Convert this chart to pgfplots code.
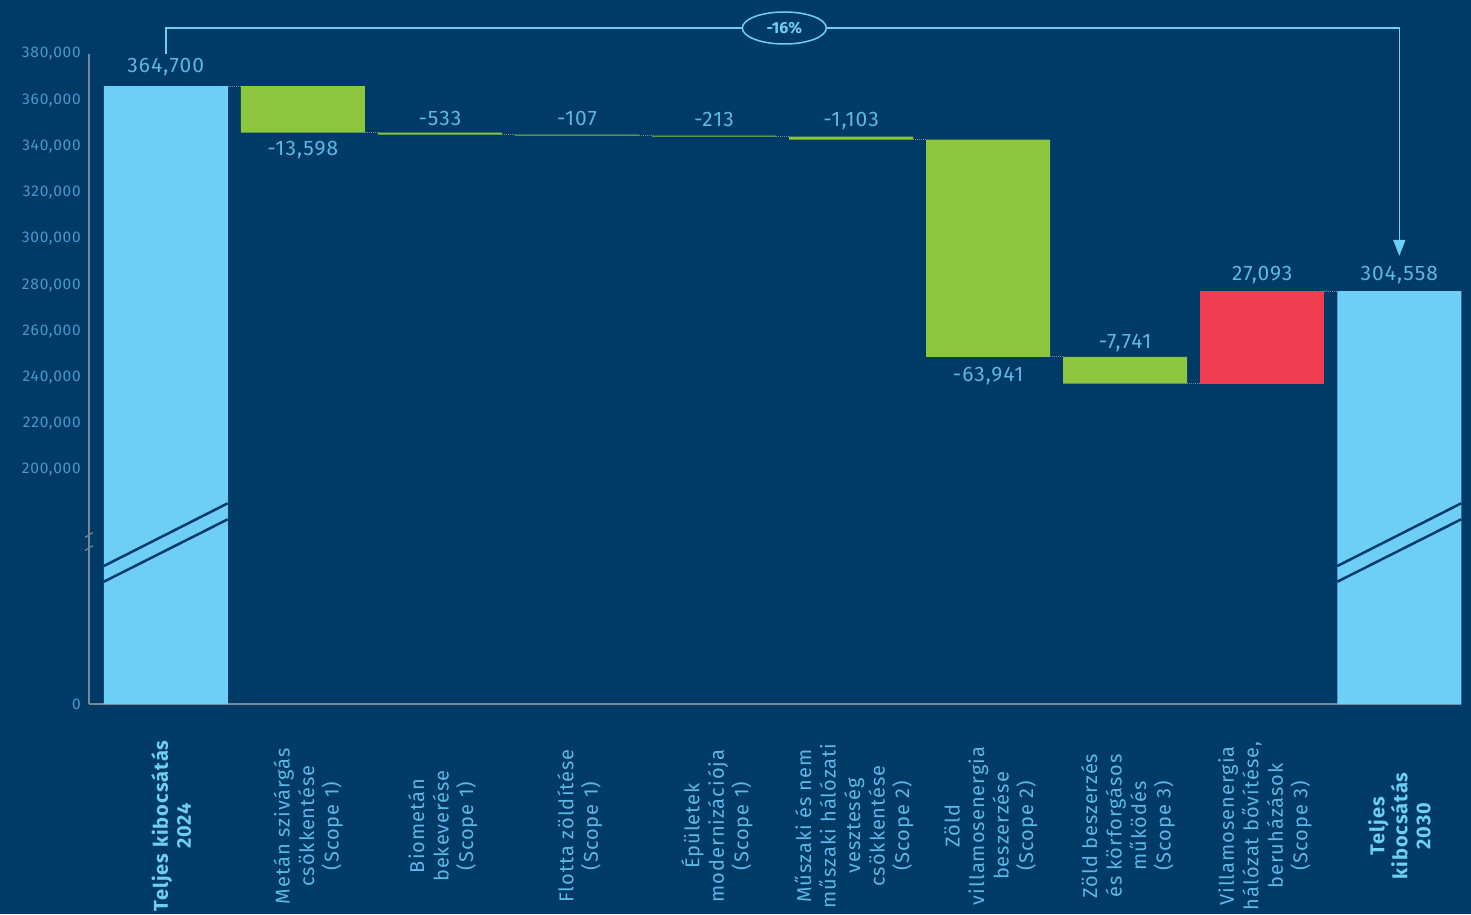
\documentclass[border=0pt]{standalone}
\usepackage{fontspec}
\setmainfont{Fira Sans}
\newfontfamily\lblfont{Fira Sans}[LetterSpace=5]
\usepackage{pgfplots}
\usepackage{pgfplotstable}
\pgfplotsset{compat=1.18}
\usetikzlibrary{arrows.meta,shapes.geometric}

\definecolor{bg}{RGB}{0,58,102}
\definecolor{lb}{RGB}{109,207,246}
\definecolor{grn}{RGB}{141,198,63}
\definecolor{rd}{RGB}{239,62,82}
\definecolor{axgray}{RGB}{120,135,150}
\definecolor{tickcol}{RGB}{74,152,206}
\definecolor{valcol}{RGB}{93,183,230}

\pgfplotsset{
  geom/.style={
    at={(89pt,210pt)}, anchor=south west,
    scale only axis, width=1372pt, height=650pt,
    xmin=-0.5604, xmax=9.4506,
    ymin=98750, ymax=380000,
    clip=false,
  },
}

% bar positions as read off the (broken) y axis; 98750 is the "0" of the axis
\pgfplotstableread{
x base green red blue
0 98750  0     0     267400
1 345950 20200 0     0
2 345100 850   0     0
3 344700 400   0     0
4 344300 400   0     0
5 342900 1400  0     0
6 248900 94000 0     0
7 237340 11560 0     0
8 237340 0     40110 0
9 98750  0     0     178700
}\wfall

\begin{document}
\begin{tikzpicture}[
  val/.style={text=valcol, font=\lblfont\fontsize{21}{24}\selectfont},
  xlab/.style={rotate=90, align=center, text=valcol, font=\lblfont\fontsize{20}{24.5}\selectfont},
  xlabb/.style={rotate=90, align=center, text=lb, font=\lblfont\bfseries\fontsize{20}{23}\selectfont},
  conn/.style={axgray, densely dotted, line width=1pt},
]
\fill[bg] (0,0) rectangle (1471pt,914pt);
\path[use as bounding box] (0,0) rectangle (1471pt,914pt);
\begin{axis}[
  geom,
  ybar stacked, bar width=124pt,
  axis x line=bottom, axis y line=left,
  axis line style={-, draw=axgray, line width=1.3pt},
  xtick=\empty,
  scaled y ticks=false,
  ytick={98750,200000,220000,240000,260000,280000,300000,320000,340000,360000,380000},
  yticklabels={0,{200,000},{220,000},{240,000},{260,000},{280,000},{300,000},{320,000},{340,000},{360,000},{380,000}},
  major tick length=0pt,
  yticklabel style={anchor=east, inner sep=0pt, xshift=-8pt, text=tickcol, font=\lblfont\fontsize{15.5}{18}\selectfont},
]
\addplot[fill=none, draw=none] table[x=x, y=base] {\wfall};
\addplot[fill=grn, draw=none] table[x=x, y=green] {\wfall};
\addplot[fill=rd, draw=none] table[x=x, y=red] {\wfall};
\addplot[fill=lb, draw=none] table[x=x, y=blue] {\wfall};

% value labels
\node[val] at (axis cs:0,374375) {364,700};
\node[val] at (axis cs:1,338462) {-13,598};
\node[val] at (axis cs:2,352308) {-533};
\node[val] at (axis cs:3,352308) {-107};
\node[val] at (axis cs:4,351875) {-213};
\node[val] at (axis cs:5,351010) {-1,103};
\node[val] at (axis cs:6,240673) {-63,941};
\node[val] at (axis cs:7,254952) {-7,741};
\node[val] at (axis cs:8,284375) {27,093};
\node[val] at (axis cs:9,284375) {304,558};

% category labels
\node[xlabb] at (axis cs:0.04,45961) {Teljes kibocsátás\\2024};
\node[xlab] at (axis cs:1.04,45961) {Metán szivárgás\\csökkentése\\(Scope 1)};
\node[xlab] at (axis cs:2.02,45961) {Biometán\\bekeverése\\(Scope 1)};
\node[xlab] at (axis cs:3.02,45961) {Flotta zöldítése\\(Scope 1)};
\node[xlab] at (axis cs:4.02,45961) {Épületek\\modernizációja\\(Scope 1)};
\node[xlab] at (axis cs:5.02,45961) {Műszaki és nem\\műszaki hálózati\\veszteség\\csökkentése\\(Scope 2)};
\node[xlab] at (axis cs:6.02,45961) {Zöld\\villamosenergia\\beszerzése\\(Scope 2)};
\node[xlab] at (axis cs:7.02,45961) {Zöld beszerzés\\és körforgásos\\működés\\(Scope 3)};
\node[xlab] at (axis cs:8.02,45961) {Villamosenergia\\hálózat bővítése,\\beruházások\\(Scope 3)};
\node[xlabb] at (axis cs:9.0,45961) {Teljes\\kibocsátás\\2030};
\end{axis}

% overlay with the same geometry: connectors, break marks, bracket
\begin{axis}[geom, hide axis]
\draw[conn] (axis cs:0.452,366150) -- (axis cs:0.548,366150);
\draw[conn] (axis cs:1.452,345950) -- (axis cs:1.548,345950);
\draw[conn] (axis cs:2.452,345100) -- (axis cs:2.548,345100);
\draw[conn] (axis cs:3.452,344700) -- (axis cs:3.548,344700);
\draw[conn] (axis cs:4.452,344300) -- (axis cs:4.548,344300);
\draw[conn] (axis cs:5.452,342900) -- (axis cs:5.548,342900);
\draw[conn] (axis cs:6.452,248900) -- (axis cs:6.548,248900);
\draw[conn] (axis cs:7.452,237340) -- (axis cs:7.548,237340);
\draw[conn] (axis cs:8.452,277450) -- (axis cs:8.548,277450);

\draw[bg, line width=2.5pt] (axis cs:-0.452,158461) -- (axis cs:0.452,185592);
\draw[bg, line width=2.5pt] (axis cs:-0.452,151667) -- (axis cs:0.452,178668);
\draw[bg, line width=2.5pt] (axis cs:8.548,158461) -- (axis cs:9.452,185592);
\draw[bg, line width=2.5pt] (axis cs:8.548,151667) -- (axis cs:9.452,178668);
\draw[axgray, line width=1.2pt] (axis cs:-0.5604,171875) ++(-4pt,-2.5pt) -- ++(8pt,5pt);
\draw[axgray, line width=1.2pt] (axis cs:-0.5604,166250) ++(-4pt,-2.5pt) -- ++(8pt,5pt);

\draw[lb, line width=1.5pt] (axis cs:0,380000) |- (axis cs:4.204,391251);
\draw[lb, line width=1.5pt, -{Triangle[width=12pt,length=16pt]}]
  (axis cs:4.817,391251) -| (axis cs:9,292597);
\node[draw=lb, line width=1.5pt, fill=bg, ellipse, minimum width=84pt,
  minimum height=32pt, inner sep=0pt, text=lb,
  font=\bfseries\fontsize{16}{18}\selectfont] at (axis cs:4.513,391251) {-16\%};
\end{axis}
\end{tikzpicture}
\end{document}
